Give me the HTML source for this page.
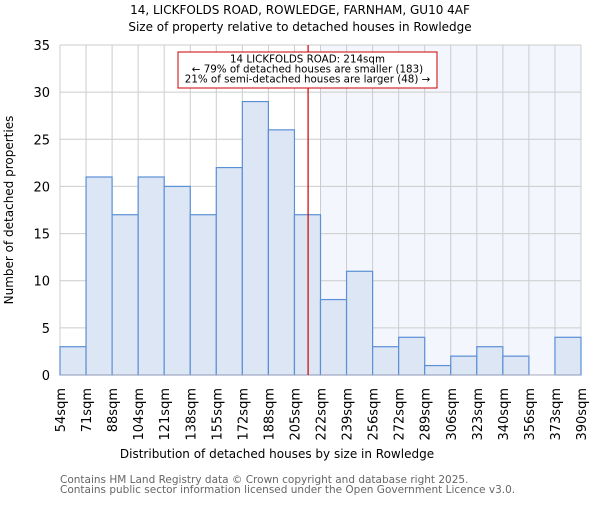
<!DOCTYPE html>
<html><head><meta charset="utf-8"><style>body{margin:0;background:#fff}svg{font-family:"DejaVu Sans","Liberation Sans",sans-serif}</style></head>
<body>
<svg id="c" width="600" height="500">
<text x="300" y="14" font-size="12" text-anchor="middle">14, LICKFOLDS ROAD, ROWLEDGE, FARNHAM, GU10 4AF</text>
<text x="300" y="31" font-size="12" text-anchor="middle">Size of property relative to detached houses in Rowledge</text>
<g id="plot"></g>
<text x="277" y="458" font-size="12" text-anchor="middle">Distribution of detached houses by size in Rowledge</text>
<text transform="translate(13,210) rotate(-90)" font-size="12" text-anchor="middle">Number of detached properties</text>
<text x="60" y="483" font-size="10.5" fill="#666">Contains HM Land Registry data © Crown copyright and database right 2025.</text>
<text x="60" y="493" font-size="10.5" fill="#666">Contains public sector information licensed under the Open Government Licence v3.0.</text>
</svg>
<script>
const tickLabels=["54sqm","71sqm","88sqm","104sqm","121sqm","138sqm","155sqm","172sqm","188sqm","205sqm","222sqm","239sqm","256sqm","272sqm","289sqm","306sqm","323sqm","340sqm","356sqm","373sqm","390sqm"];
const counts=[3,21,17,21,20,17,22,29,26,17,8,11,3,4,1,2,3,2,0,4];
const yTicks=[0,5,10,15,20,25,30,35];
const subjectSize=214;
const minSize=54, maxSize=390;
const L=60,R=581,T=45,B=375,yMax=35;
const n=counts.length,bw=(R-L)/n;
const xb=i=>L+i*bw, y=v=>B-(v/yMax)*(B-T), xs=s=>L+(s-minSize)/(maxSize-minSize)*(R-L);
const g=document.getElementById('plot'),NS="http://www.w3.org/2000/svg";
function mk(t,a,p){const e=document.createElementNS(NS,t);for(const k in a)e.setAttribute(k,a[k]);(p||g).appendChild(e);return e;}
const subjBin=Math.ceil((subjectSize-minSize)/((maxSize-minSize)/n));
let e=mk('rect',{x:xb(subjBin),y:T,width:R-xb(subjBin),height:B-T,fill:'#f3f6fd'});


for(let i=0;i<=n;i++){e=mk('line',{x1:xb(i),x2:xb(i),y1:T,y2:B,stroke:'#ccc'});

}
yTicks.forEach(v=>{e=mk('line',{x1:L,x2:R,y1:y(v),y2:y(v),stroke:'#ccc'});


e=mk('text',{x:L-10,y:y(v)+5,'font-size':13,'text-anchor':'end'});e.textContent=v;

});
counts.forEach((v,i)=>{if(v<=0)return;e=mk('rect',{x:xb(i),y:y(v),width:bw,height:B-y(v),fill:'#dce6f4',stroke:'#5b8fd6','stroke-width':1.2});

});
e=mk('line',{x1:L,x2:R,y1:B,y2:B,stroke:'#aab'});


tickLabels.forEach((t,i)=>{e=mk('text',{transform:`translate(${xb(i)+5},388) rotate(-90)`,'font-size':13,'text-anchor':'end'});e.textContent=t;

});
const sx=xs(subjectSize);
e=mk('line',{x1:sx,x2:sx,y1:T,y2:B,stroke:'#cc0000','stroke-width':1.2});


e=mk('rect',{x:178,y:52,width:259,height:36,fill:'#fff',stroke:'#cc0000'});


["14 LICKFOLDS ROAD: 214sqm","← 79% of detached houses are smaller (183)","21% of semi-detached houses are larger (48) →"].forEach((t,i)=>{e=mk('text',{x:307.5,y:62.5+i*10,'font-size':10.3,'text-anchor':'middle'});e.textContent=t;

});
</script>
</body></html>
